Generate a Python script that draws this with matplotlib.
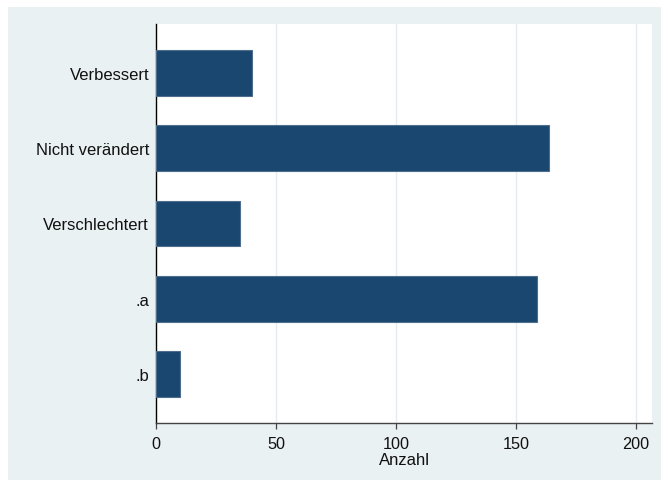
import matplotlib
matplotlib.use("Agg")
import matplotlib.pyplot as plt
from matplotlib.patches import Rectangle

categories = ["Verbessert", "Nicht verändert", "Verschlechtert", ".a", ".b"]
counts = [40, 164, 35, 159, 10]
xticks = [0, 50, 100, 150, 200]
xlabel = "Anzahl"

plt.rcParams['font.family'] = ['Liberation Sans', 'DejaVu Sans']

W, H = 661, 481
fig = plt.figure(figsize=(W / 100, H / 100), dpi=100)
fig.patch.set_facecolor("white")
bgcol = "#EAF1F3"
fig.patches.append(Rectangle((7.5 / W, 0), 1, (H - 8) / H, transform=fig.transFigure,
                             facecolor=bgcol, edgecolor="none", zorder=-10))

ax = fig.add_axes([156 / W, 1 - 424 / H, (652.3 - 156) / W, (424 - 25) / H])
ax.set_zorder(5)
ax.set_facecolor("white")

pos = list(range(len(categories)))
ax.barh(pos, counts, height=0.61, color="#1A476F", edgecolor="#4F6E8E",
        linewidth=0.8, zorder=3)
ax.set_ylim(len(categories) - 1 + 0.65, -0.65)
ax.set_xlim(0, 206.9)

fs = 12
ax.set_yticks(pos)
ax.set_yticklabels(categories, fontsize=fs, color="#111111")
ax.tick_params(axis="y", length=0, pad=5)
ax.set_xticks(xticks)
ax.set_xticklabels([str(t) for t in xticks], fontsize=11.7, color="#111111")
ax.tick_params(axis="x", length=4.5, width=0.9, color="#444444", pad=5)
ax.set_xlabel(xlabel, fontsize=fs, color="#111111", labelpad=0.3)

for t in xticks[1:]:
    ax.axvline(t, color="#E4ECEF", linewidth=1.0, zorder=1)

for s in ["top", "right"]:
    ax.spines[s].set_visible(False)
ax.spines["left"].set_color("black")
ax.spines["left"].set_linewidth(1.0)
ax.spines["bottom"].set_color("#444444")
ax.spines["bottom"].set_linewidth(1.0)

fig.savefig("out.png", dpi=100, facecolor=fig.get_facecolor())
